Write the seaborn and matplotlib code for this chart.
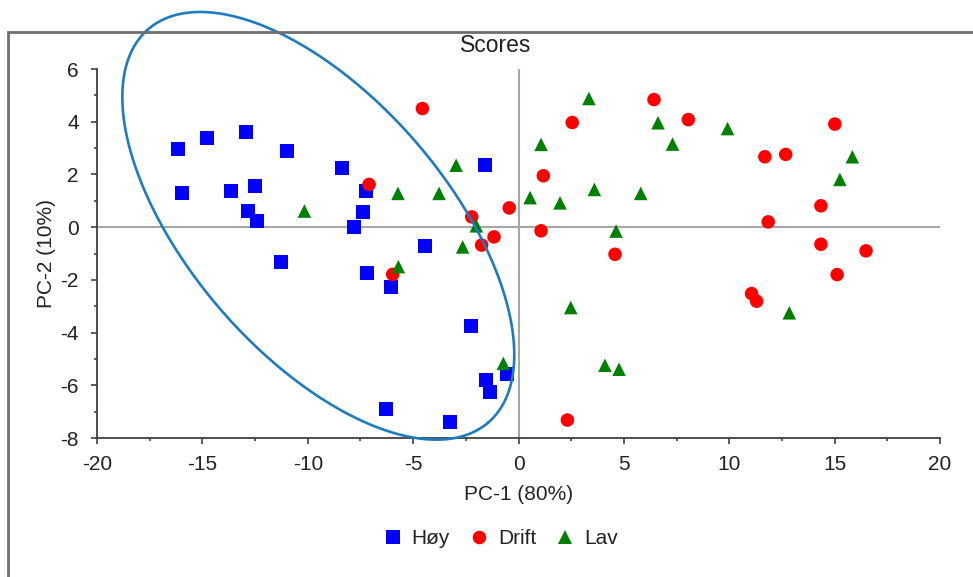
import seaborn as sns
import matplotlib.pyplot as plt
import numpy as np
import pandas as pd
from matplotlib.patches import Rectangle

# Score values
hoy_x = [-16.15, -14.78, -12.93, -10.99, -15.96, -13.64, -12.5, -12.83, -12.4, -8.37, -7.23, -7.38,
         -7.8, -11.27, -7.19, -6.05, -4.44, -1.59, -2.25, -1.54, -1.35, -0.55, -6.29, -3.25]
hoy_y = [2.96, 3.38, 3.6, 2.88, 1.29, 1.37, 1.56, 0.61, 0.23, 2.24, 1.37, 0.57,
         0.0, -1.33, -1.75, -2.28, -0.72, 2.35, -3.76, -5.8, -6.26, -5.58, -6.9, -7.4]

drift_x = [-4.56, -7.09, -2.22, -0.44, -1.16, -1.75, -5.97, 2.55, 1.18, 1.07, 6.43, 8.06,
           11.69, 12.68, 15.01, 14.35, 11.85, 14.35, 16.49, 4.58, 15.12, 11.06, 11.3, 2.32]
drift_y = [4.5, 1.62, 0.39, 0.73, -0.37, -0.68, -1.79, 3.97, 1.95, -0.14, 4.84, 4.08,
           2.67, 2.76, 3.91, 0.81, 0.2, -0.65, -0.9, -1.03, -1.8, -2.52, -2.81, -7.32]

lav_x = [-2.96, -5.72, -3.77, -10.16, -2.0, 0.55, -2.65, -5.7, -0.72, 3.34, 1.07, 1.97,
         3.6, 5.8, 4.63, 6.62, 7.31, 9.92, 15.25, 15.84, 2.48, 4.1, 4.77, 12.85]
lav_y = [2.35, 1.28, 1.28, 0.61, 0.05, 1.12, -0.75, -1.5, -5.17, 4.88, 3.14, 0.92,
         1.43, 1.28, -0.15, 3.96, 3.15, 3.74, 1.81, 2.67, -3.05, -5.24, -5.39, -3.25]

groups = ['Høy', 'Drift', 'Lav']
colors = {'Høy': '#0000FF', 'Drift': '#FF0000', 'Lav': '#008000'}
markers = {'Høy': 's', 'Drift': 'o', 'Lav': '^'}

df = pd.concat([
    pd.DataFrame({'PC1': hoy_x, 'PC2': hoy_y, 'group': 'Høy'}),
    pd.DataFrame({'PC1': drift_x, 'PC2': drift_y, 'group': 'Drift'}),
    pd.DataFrame({'PC1': lav_x, 'PC2': lav_y, 'group': 'Lav'}),
], ignore_index=True)

# Ellipse drawn around the Høy group (center + semi-axis vectors, data units)
ell_center = (-9.5, 0.05)
ell_major = (8.07, -7.46)
ell_minor = (-4.62, -3.19)

sns.set_style('white')
plt.rcParams['font.family'] = ['Liberation Sans', 'DejaVu Sans']
plt.rcParams['text.color'] = '#222222'
plt.rcParams['axes.labelcolor'] = '#222222'
plt.rcParams['axes.unicode_minus'] = False

fig = plt.figure(figsize=(9.73, 5.77), dpi=100)
ax = fig.add_axes([97 / 973, 1 - 438 / 577, (940 - 97) / 973, (438 - 69) / 577])

# outer frame (partly cropped in the original)
fig.add_artist(Rectangle((8 / 973, -0.2), 1.5, 1.2 - 31.5 / 577, transform=fig.transFigure,
                         fill=False, edgecolor='#6e6e6e', linewidth=2))

ax.axhline(0, color='#a6a6a6', linewidth=1.5, zorder=1)
ax.axvline(0, color='#a6a6a6', linewidth=1.5, zorder=1)

sns.scatterplot(data=df, x='PC1', y='PC2', hue='group', style='group', hue_order=groups,
                style_order=groups, palette=colors, markers=markers, s=95, linewidth=0,
                ax=ax, zorder=3)

t = np.linspace(0, 2 * np.pi, 400)
ex = ell_center[0] + ell_major[0] * np.cos(t) + ell_minor[0] * np.sin(t)
ey = ell_center[1] + ell_major[1] * np.cos(t) + ell_minor[1] * np.sin(t)
ax.plot(ex, ey, color='#1f7bc0', linewidth=1.9, clip_on=False, zorder=4)

ax.set_xlim(-20, 20)
ax.set_ylim(-8, 6)
ax.set_xticks(np.arange(-20, 21, 5))
ax.set_xticks(np.arange(-20, 21, 2.5), minor=True)
ax.set_yticks(np.arange(-8, 7, 2))
ax.set_yticks(np.arange(-8, 7, 1), minor=True)

for side in ['top', 'right']:
    ax.spines[side].set_visible(False)
for side in ['left', 'bottom']:
    ax.spines[side].set_color('#404040')
    ax.spines[side].set_linewidth(1.3)

ax.tick_params(which='major', direction='out', length=4, width=1.2, color='#404040',
               labelsize=15, labelcolor='#222222', left=True, bottom=True)
ax.tick_params(which='minor', direction='out', length=2, width=1.2, color='#404040',
               left=True, bottom=True)
ax.tick_params(axis='y', which='major', pad=9)
ax.tick_params(axis='x', which='major', pad=8)

ax.set_xlabel('PC-1 (80%)', fontsize=15, labelpad=8)
ax.set_ylabel('PC-2 (10%)', fontsize=15, labelpad=3)

fig.text(496 / 973, 1 - 46 / 577, 'Scores', ha='center', va='center', fontsize=16.5,
         color='#222222')

sns.move_legend(ax, 'center', bbox_to_anchor=(500 / 973, 1 - 539 / 577),
                bbox_transform=fig.transFigure, ncol=3, frameon=False, title=None,
                fontsize=15, handletextpad=0.4, columnspacing=0.9, handlelength=1.0)

plt.savefig('out.png', dpi=100)
